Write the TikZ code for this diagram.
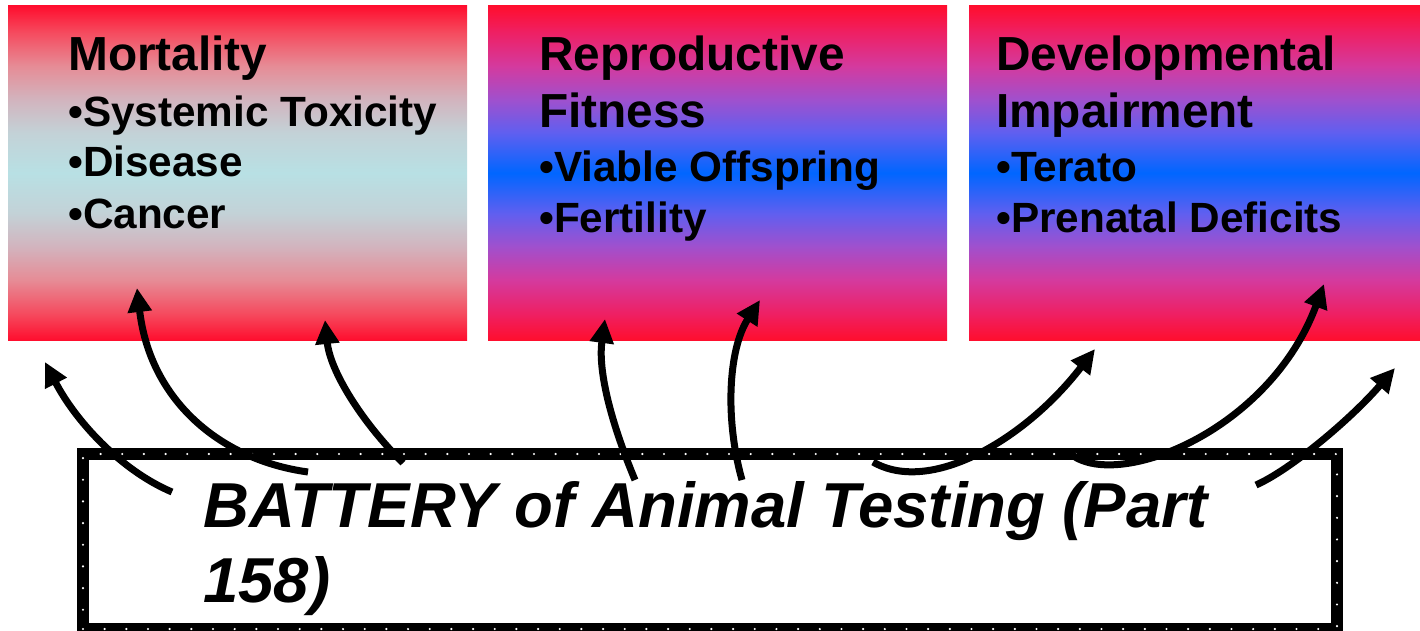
\documentclass[tikz,border=0pt]{standalone}
\usepackage{fontspec}
\setmainfont{Liberation Sans}
\usetikzlibrary{arrows.meta}
\definecolor{rd}{RGB}{255,14,46}
\definecolor{cy}{RGB}{184,224,228}
\definecolor{bl}{RGB}{0,102,255}
\definecolor{ma}{RGB}{245,75,95}
\definecolor{mb}{RGB}{230,140,150}
\definecolor{mc}{RGB}{210,180,190}
\definecolor{md}{RGB}{195,210,215}
\definecolor{ra}{RGB}{238,32,100}
\definecolor{rb}{RGB}{212,58,158}
\definecolor{rc}{RGB}{160,80,205}
\definecolor{rdd}{RGB}{95,95,240}
\pgfdeclareverticalshading{mortshade}{100bp}{color(0bp)=(rd); color(25bp)=(rd); color(29bp)=(ma); color(34bp)=(mb); color(39bp)=(mc); color(44bp)=(md); color(50bp)=(cy); color(56bp)=(md); color(61bp)=(mc); color(66bp)=(mb); color(71bp)=(ma); color(75bp)=(rd); color(100bp)=(rd)}
\pgfdeclareverticalshading{rbshade}{100bp}{color(0bp)=(rd); color(25bp)=(rd); color(29bp)=(ra); color(34bp)=(rb); color(39bp)=(rc); color(44bp)=(rdd); color(50bp)=(bl); color(56bp)=(rdd); color(61bp)=(rc); color(66bp)=(rb); color(71bp)=(ra); color(75bp)=(rd); color(100bp)=(rd)}
\begin{document}
\begin{tikzpicture}[x=1pt,y=-1pt,
  topbox/.style={anchor=north west, inner sep=0pt, outer sep=0pt, minimum height=334pt, shade},
  ttl/.style={anchor=base west, inner sep=0pt, font=\bfseries\fontsize{47.8}{47.8}\selectfont},
  bul/.style={anchor=base west, inner sep=0pt, font=\bfseries\fontsize{42.3}{42.3}\selectfont},
  bat/.style={anchor=base west, inner sep=0pt, font=\bfseries\itshape\fontsize{63.5}{63.5}\selectfont},
  dotframe/.style={anchor=north west, inner sep=0pt, outer sep=0pt, draw=black, line width=12pt,
     postaction={draw=white, line width=2.4pt, dash pattern=on 0pt off 21.67pt, line cap=round}},
  arr/.style={line width=7pt, -{Triangle[length=24pt,width=23pt]}}]
\useasboundingbox (0,0) rectangle (1420,631);
\fill[white] (0,0) rectangle (1420,631);

% top boxes
\node (b1) [topbox, shading=mortshade, minimum width=459pt] at (8,6) {};
\node (b2) [topbox, shading=rbshade, minimum width=459pt] at (488,6) {};
\node (b3) [topbox, shading=rbshade, minimum width=451pt] at (969,6) {};

% texts box 1
\node (m0) [ttl] at (68,71) {Mortality};
\node (m1) [bul] at (68,127) {•Systemic Toxicity};
\node (m2) [bul] at (68,177) {•Disease};
\node (m3) [bul] at (68,228) {•Cancer};
% texts box 2
\node (r0) [ttl] at (539,71) {Reproductive};
\node (r1) [ttl] at (539,128) {Fitness};
\node (r2) [bul] at (539,182) {•Viable Offspring};
\node (r3) [bul] at (539,232) {•Fertility};
% texts box 3
\node (d0) [ttl] at (996,71) {Developmental};
\node (d1) [ttl] at (996,128) {Impairment};
\node (d2) [bul] at (996,182) {•Terato};
\node (d3) [bul] at (996,232) {•Prenatal Deficits};

% bottom box
\node (bb) [dotframe, minimum width=1254pt, minimum height=175pt] at (83,454) {};
\node (bt1) [bat] at (203,527) {BATTERY of Animal Testing (Part};
\node (bt2) [bat] at (203,602) {158)};

% arrow ends
\coordinate (t1) at (172,492); \coordinate (h1) at (45,362);
\coordinate (t2) at (308,472); \coordinate (h2) at (137,288);
\coordinate (t3) at (403,463); \coordinate (h3) at (325,320);
\coordinate (t4) at (635,480); \coordinate (h4) at (605,319);
\coordinate (t5) at (742,480); \coordinate (h5) at (760,300);
\coordinate (t6) at (873,462); \coordinate (h6) at (1095,349);
\coordinate (t7) at (1072,455); \coordinate (h7) at (1324,284);
\coordinate (t8) at (1256,485); \coordinate (h8) at (1395,368);

\draw[arr] (t1) .. controls (120,470) and (75,420) .. (h1);
\draw[arr] (t2) .. controls (220,460) and (150,400) .. (h2);
\draw[arr] (t3) .. controls (360,420) and (330,370) .. (h3);
\draw[arr] (t4) .. controls (610,420) and (598,370) .. (h4);
\draw[arr] (t5) .. controls (725,420) and (728,350) .. (h5);
\draw[arr] (t6) .. controls (930,495) and (1025,440) .. (h6);
\draw[arr] (t7) .. controls (1120,490) and (1270,430) .. (h7);
\draw[arr] (t8) .. controls (1290,470) and (1350,420) .. (h8);
\end{tikzpicture}
\end{document}
